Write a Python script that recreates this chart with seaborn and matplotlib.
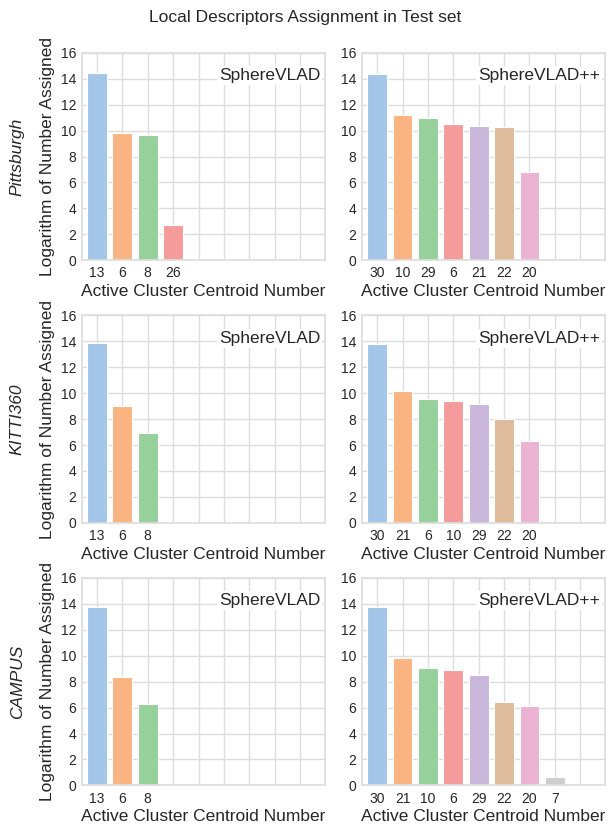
import matplotlib
matplotlib.use("Agg")
import matplotlib.pyplot as plt
import seaborn as sns
import pandas as pd

sns.set_theme(style="whitegrid", palette="pastel")
plt.rcParams['font.family'] = ['Liberation Sans', 'DejaVu Sans']

datasets = ["Pittsburgh", "KITTI360", "CAMPUS"]
methods = ["SphereVLAD", "SphereVLAD++"]

pitt_vlad_labels = ["13", "6", "8", "26"]
pitt_vlad_values = [14.48, 9.83, 9.65, 2.71]
pitt_pp_labels = ["30", "10", "29", "6", "21", "22", "20"]
pitt_pp_values = [14.4, 11.2, 10.94, 10.5, 10.35, 10.25, 6.84]

kitti_vlad_labels = ["13", "6", "8"]
kitti_vlad_values = [13.87, 9.04, 6.93]
kitti_pp_labels = ["30", "21", "6", "10", "29", "22", "20"]
kitti_pp_values = [13.82, 10.17, 9.53, 9.4, 9.19, 7.99, 6.34]

campus_vlad_labels = ["13", "6", "8"]
campus_vlad_values = [13.76, 8.36, 6.28]
campus_pp_labels = ["30", "21", "10", "6", "29", "22", "20", "7"]
campus_pp_values = [13.74, 9.8, 9.05, 8.93, 8.51, 6.4, 6.15, 0.67]

panels = [
    [(pitt_vlad_labels, pitt_vlad_values), (pitt_pp_labels, pitt_pp_values)],
    [(kitti_vlad_labels, kitti_vlad_values), (kitti_pp_labels, kitti_pp_values)],
    [(campus_vlad_labels, campus_vlad_values), (campus_pp_labels, campus_pp_values)],
]

n_slots = 10
bar_colors = ["#a3c6e8", "#fab482", "#96d09b", "#f59b9b", "#c8b7da",
              "#ddbb9b", "#ebb2d2", "#cdcdcd", "#e0e0a0", "#a8d8e0"]

fig, axes = plt.subplots(3, 2, figsize=(6.1, 8.25), dpi=100)
fig.subplots_adjust(left=0.134, right=0.992, top=0.936, bottom=0.048,
                    wspace=0.152, hspace=0.266)

for r in range(3):
    for c in range(2):
        ax = axes[r, c]
        labels, values = panels[r][c]
        pads = [f"_pad{i}" for i in range(n_slots - len(labels))]
        order = list(labels) + pads
        df = pd.DataFrame({"cluster": labels, "value": values})
        sns.barplot(data=df, x="cluster", y="value", hue="cluster",
                    order=order, hue_order=order,
                    palette=bar_colors, legend=False, ax=ax,
                    width=0.78, saturation=1, edgecolor='white', linewidth=0.8)
        ax.set_xticks(range(n_slots))
        ax.set_xticklabels(list(labels) + [""] * len(pads), fontsize=10)
        ax.set_xlim(-0.6, 8.98)
        ax.set_ylim(0, 16)
        ax.set_yticks(range(0, 17, 2))
        ax.tick_params(axis='both', length=0)
        ax.tick_params(axis='y', labelsize=10, pad=4)
        ax.tick_params(axis='x', pad=4.5)
        ax.xaxis.grid(True, color='#dddddd', linewidth=1)
        ax.yaxis.grid(True, color='#dddddd', linewidth=1)
        ax.set_axisbelow(True)
        ax.set_xlabel("Active Cluster Centroid Number", fontsize=12.5, labelpad=2.5)
        if c == 0:
            ax.set_ylabel("Logarithm of Number Assigned", fontsize=12.5, labelpad=4)
            ax.text(-0.265, 0.5, datasets[r], transform=ax.transAxes,
                    rotation=90, ha='center', va='center', fontsize=12.5,
                    style='italic')
        else:
            ax.set_ylabel("")
        ax.text(0.98, 0.89, methods[c], transform=ax.transAxes,
                ha='right', va='center', fontsize=12.5,
                bbox=dict(facecolor='white', edgecolor='none', pad=1.5))
        for sp in ax.spines.values():
            sp.set_color('#dddddd')

fig.suptitle("Local Descriptors Assignment in Test set", fontsize=12.5, y=0.988)
fig.savefig("out.png", dpi=100)
